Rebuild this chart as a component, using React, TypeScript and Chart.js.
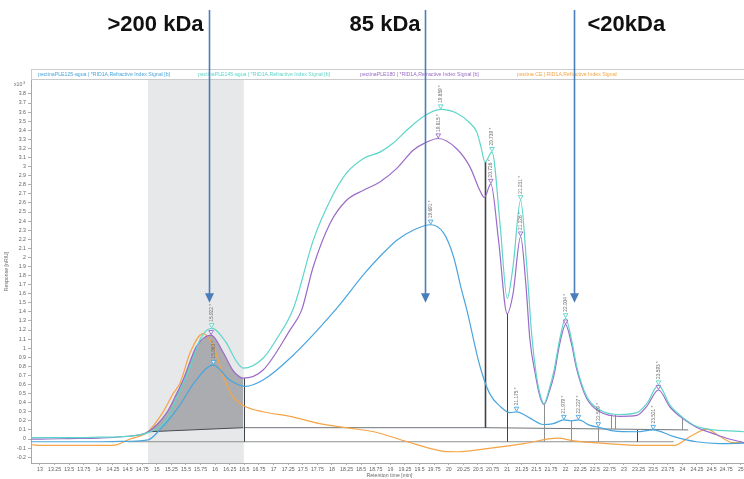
import React, { useEffect, useRef } from 'react';
import { Chart, registerables } from 'chart.js';

Chart.register(...registerables);

// ---------- data ----------
const seriesNames = [
  'pectinaPLE125-agua | *RID1A,Refractive Index Signal [b]',
  'pectinaPLE145-agua | *RID1A,Refractive Index Signal [b]',
  'pectinaPLE180 | *RID1A,Refractive Index Signal [b]',
  'pectina CE | RID1A,Refractive Index Signal',
];
const seriesColors = ['#4aa5de', '#5ed5ca', '#9a6bc8', '#f5a447'];

const ple125T = [12.85, 13.0, 14.0, 14.5, 14.85, 15.05, 15.38, 15.65, 15.97, 16.25, 16.51, 16.82, 17.28, 18.08, 18.54, 18.82, 19.11, 19.39, 19.69, 19.91, 20.08, 20.22, 20.31, 20.53, 20.7, 20.88, 21.05, 21.16, 21.39, 21.62, 21.79, 21.97, 22.1, 22.22, 22.42, 22.56, 22.82, 23.22, 23.5, 23.84, 24.24, 24.64, 25.06];
const ple125Y = [-0.03, -0.03, -0.03, -0.025, -0.01, 0.10, 0.36, 0.63, 0.815, 0.65, 0.58, 0.65, 0.89, 1.44, 1.81, 2.01, 2.19, 2.30, 2.36, 2.27, 2.01, 1.64, 1.42, 0.81, 0.50, 0.36, 0.29, 0.30, 0.23, 0.16, 0.17, 0.21, 0.20, 0.21, 0.15, 0.13, 0.09, 0.08, 0.10, 0.03, -0.03, -0.05, -0.045];

const ple145T = [12.85, 13.0, 13.5, 14.0, 14.5, 14.85, 15.17, 15.35, 15.48, 15.6, 15.75, 15.94, 16.18, 16.35, 16.48, 16.82, 17.05, 17.34, 17.68, 17.97, 18.25, 18.54, 18.82, 19.05, 19.28, 19.56, 19.86, 20.13, 20.36, 20.48, 20.55, 20.62, 20.74, 20.88, 21.0, 21.1, 21.23, 21.33, 21.42, 21.5, 21.56, 21.63, 21.72, 21.8, 21.9, 22.0, 22.1, 22.19, 22.36, 22.59, 22.93, 23.22, 23.39, 23.59, 23.79, 24.02, 24.24, 24.53, 24.8, 25.06];
const ple145Y = [0.015, 0.015, 0.015, 0.02, 0.03, 0.07, 0.21, 0.46, 0.65, 0.84, 1.11, 1.22, 1.07, 0.87, 0.78, 0.89, 1.1, 1.44, 2.19, 2.63, 2.93, 3.09, 3.16, 3.26, 3.40, 3.55, 3.63, 3.59, 3.48, 3.38, 3.22, 3.05, 3.16, 2.35, 1.55, 1.9, 2.63, 1.95, 1.15, 0.7, 0.5, 0.39, 0.55, 0.75, 1.1, 1.33, 1.1, 0.8, 0.47, 0.32, 0.27, 0.29, 0.39, 0.59, 0.37, 0.23, 0.14, 0.10, 0.09, 0.08];

const ple180T = [12.85, 13.0, 13.5, 14.0, 14.4, 14.85, 15.17, 15.34, 15.45, 15.68, 15.93, 16.14, 16.3, 16.48, 16.82, 17.28, 17.48, 17.68, 17.97, 18.25, 18.54, 18.82, 19.11, 19.39, 19.62, 19.82, 20.13, 20.36, 20.53, 20.61, 20.72, 20.85, 21.0, 21.1, 21.23, 21.32, 21.39, 21.48, 21.56, 21.63, 21.72, 21.8, 21.9, 22.0, 22.1, 22.19, 22.36, 22.59, 22.93, 23.22, 23.39, 23.59, 23.79, 24.02, 24.24, 24.53, 24.8, 25.06];
const ple180Y = [0.0, 0.0, 0.005, 0.01, 0.025, 0.08, 0.29, 0.50, 0.65, 1.02, 1.145, 0.95, 0.76, 0.67, 0.76, 1.20, 1.42, 1.90, 2.38, 2.63, 2.74, 2.83, 2.98, 3.18, 3.27, 3.31, 3.20, 3.00, 2.74, 2.66, 2.81, 2.2, 1.38, 1.6, 2.23, 1.7, 1.09, 0.72, 0.47, 0.38, 0.52, 0.7, 1.05, 1.26, 1.05, 0.77, 0.45, 0.30, 0.25, 0.26, 0.36, 0.54, 0.35, 0.22, 0.13, 0.06, 0.0, -0.04];

const ceT = [12.85, 13.0, 14.25, 14.54, 14.85, 15.1, 15.28, 15.4, 15.57, 15.79, 15.97, 16.14, 16.3, 16.48, 16.82, 17.28, 17.79, 18.3, 18.72, 19.29, 19.86, 20.15, 20.72, 21.29, 21.86, 22.14, 22.71, 23.29, 23.86, 24.14, 24.42, 24.64, 24.87, 25.06];
const ceY = [-0.06, -0.07, -0.07, 0.0, 0.08, 0.29, 0.50, 0.62, 0.95, 1.16, 1.02, 0.69, 0.47, 0.37, 0.30, 0.25, 0.17, 0.12, 0.08, -0.03, -0.13, -0.14, -0.10, -0.05, 0.01, -0.02, -0.05, -0.07, -0.07, 0.03, 0.11, 0.03, -0.04, -0.04];

// peaks (marker + label)
const ple125PeakT = [15.97, 19.69, 21.16, 21.97, 22.22, 22.56, 23.5];
const ple125PeakLabels = ['15.960 *', '19.691 *', '21.175 *', '21.979 *', '22.227 *', '22.579 *', '23.521 *'];
const ple145PeakT = [15.94, 19.86, 20.74, 21.23, 22.0, 23.59];
const ple145PeakLabels = ['15.922 *', '19.859 *', '20.739 *', '21.231 *', '22.004 *', '23.593 *'];
const ple180PeakT = [15.93, 19.82, 20.72, 21.23, 22.0, 23.59];
const ple180PeakLabels = ['', '19.815 *', '20.726 *', '21.226 *', '', ''];

// integration marks
const bandT = [14.85, 16.49];
const integBaseT = [14.85, 16.48];
const integBaseY = [0.08, 0.125];
const upperBaselineT = [16.49, 20.62, 22.8, 24.1];
const upperBaselineY = [0.125, 0.125, 0.11, 0.10];
const lowerBaselineT = [14.5, 23.85];
const lowerBaselineY = [-0.03, -0.03];
const dropT = [16.49, 20.62, 21.0, 21.63, 22.09, 22.56, 22.77, 22.85, 23.22, 23.99];
const dropTopY = [0.67, 3.05, 1.38, 0.38, 0.20, 0.13, 0.27, 0.27, 0.10, 0.23];
const dropBottomY = [-0.03, 0.125, -0.03, -0.03, -0.03, -0.03, 0.11, 0.11, -0.03, 0.10];
const dropDark = [true, true, true, false, false, false, false, false, true, false];

// annotations
const kdaTexts = ['>200 kDa', '85 kDa', '<20kDa'];
const arrowT = [15.894, 19.592, 22.144];
const arrowTipY = 1.5;

// axes
const xTickValues = [13, 13.25, 13.5, 13.75, 14, 14.25, 14.5, 14.75, 15, 15.25, 15.5, 15.75, 16, 16.25, 16.5, 16.75, 17, 17.25, 17.5, 17.75, 18, 18.25, 18.5, 18.75, 19, 19.25, 19.5, 19.75, 20, 20.25, 20.5, 20.75, 21, 21.25, 21.5, 21.75, 22, 22.25, 22.5, 22.75, 23, 23.25, 23.5, 23.75, 24, 24.25, 24.5, 24.75, 25];
const yTickValues = [-0.2, -0.1, 0, 0.1, 0.2, 0.3, 0.4, 0.5, 0.6, 0.7, 0.8, 0.9, 1, 1.1, 1.2, 1.3, 1.4, 1.5, 1.6, 1.7, 1.8, 1.9, 2, 2.1, 2.2, 2.3, 2.4, 2.5, 2.6, 2.7, 2.8, 2.9, 3, 3.1, 3.2, 3.3, 3.4, 3.5, 3.6, 3.7, 3.8];
const X_MIN = 12.846;
const X_MAX = 25.055;
const Y_MIN = -0.264;
const Y_MAX = 3.954;

const FONT = '"Liberation Sans", Arial, sans-serif';

const pts = (ts: number[], ys: number[]) => ts.map((t, i) => ({ x: t, y: ys[i] }));

function interp(ts: number[], ys: number[], t: number) {
  for (let i = 0; i < ts.length - 1; i++) {
    if (t >= ts[i] && t <= ts[i + 1]) {
      const f = (t - ts[i]) / (ts[i + 1] - ts[i]);
      return ys[i] + f * (ys[i + 1] - ys[i]);
    }
  }
  return ys[ys.length - 1];
}

const decorPlugin = {
  id: 'decor',
  beforeDatasetsDraw(chart: any) {
    const { ctx, chartArea, scales } = chart;
    const x = scales.x, y = scales.y;
    ctx.save();
    const b1 = x.getPixelForValue(bandT[0]);
    const b2 = x.getPixelForValue(bandT[1]);
    ctx.fillStyle = '#e7e8e9';
    ctx.fillRect(b1, chartArea.top, b2 - b1, chartArea.bottom - chartArea.top);
    const poly = (ts: number[], ys: number[], color: string) => {
      ctx.beginPath();
      ts.forEach((t, i) => {
        const px = x.getPixelForValue(t), py = y.getPixelForValue(ys[i]);
        if (i === 0) ctx.moveTo(px, py); else ctx.lineTo(px, py);
      });
      ctx.strokeStyle = color;
      ctx.lineWidth = 1;
      ctx.stroke();
    };
    poly(integBaseT, integBaseY, '#3f4449');
    poly(upperBaselineT, upperBaselineY, '#70757a');
    poly(lowerBaselineT, lowerBaselineY, '#8d8f91');
    dropT.forEach((t, i) => {
      const px = Math.round(x.getPixelForValue(t)) + 0.5;
      ctx.beginPath();
      ctx.moveTo(px, y.getPixelForValue(dropTopY[i]));
      ctx.lineTo(px, y.getPixelForValue(dropBottomY[i]));
      ctx.strokeStyle = dropDark[i] ? '#3f4449' : '#8d8f91';
      ctx.lineWidth = dropDark[i] && i === 1 ? 1.6 : 1;
      ctx.stroke();
    });
    ctx.restore();
  },
  afterDatasetsDraw(chart: any) {
    const { ctx, scales } = chart;
    const x = scales.x, y = scales.y;
    ctx.save();
    const groups = [
      { ts: ple125T, ys: ple125Y, pt: ple125PeakT, pl: ple125PeakLabels, c: seriesColors[0] },
      { ts: ple180T, ys: ple180Y, pt: ple180PeakT, pl: ple180PeakLabels, c: seriesColors[2] },
      { ts: ple145T, ys: ple145Y, pt: ple145PeakT, pl: ple145PeakLabels, c: seriesColors[1] },
    ];
    groups.forEach((g) => {
      g.pt.forEach((t, i) => {
        const px = x.getPixelForValue(t);
        const py = y.getPixelForValue(interp(g.ts, g.ys, t));
        ctx.beginPath();
        ctx.moveTo(px, py - 0.5);
        ctx.lineTo(px - 2.3, py - 4.6);
        ctx.lineTo(px + 2.3, py - 4.6);
        ctx.closePath();
        ctx.fillStyle = 'rgba(255,255,255,0.85)';
        ctx.fill();
        ctx.strokeStyle = g.c;
        ctx.lineWidth = 0.9;
        ctx.stroke();
        if (g.pl[i]) {
          ctx.save();
          ctx.translate(px, py - 6.5);
          ctx.rotate(-Math.PI / 2);
          ctx.font = `4.8px ${FONT}`;
          ctx.fillStyle = '#6e6e6e';
          ctx.textAlign = 'left';
          ctx.textBaseline = 'middle';
          ctx.fillText(g.pl[i], 0, 0);
          ctx.restore();
        }
      });
    });
    ctx.restore();
  },
  afterDraw(chart: any) {
    const { ctx, chartArea, scales } = chart;
    const x = scales.x, y = scales.y;
    ctx.save();
    ctx.strokeStyle = '#c9cbcd';
    ctx.lineWidth = 1;
    ctx.strokeRect(chartArea.left + 0.5, 69.5, chartArea.right - chartArea.left, 10);
    const legendX = [38, 198, 360, 517];
    ctx.font = `5.2px ${FONT}`;
    ctx.textBaseline = 'middle';
    ctx.textAlign = 'left';
    seriesNames.forEach((n, i) => {
      ctx.fillStyle = seriesColors[i];
      ctx.fillText(n, legendX[i], 74.5);
    });
    ctx.fillStyle = '#6a6a6a';
    ctx.font = `5.2px ${FONT}`;
    ctx.save();
    ctx.translate(7, (chartArea.top + chartArea.bottom) / 2);
    ctx.rotate(-Math.PI / 2);
    ctx.textAlign = 'center';
    ctx.fillText('Response [nRIU]', 0, 0);
    ctx.restore();
    ctx.textAlign = 'left';
    ctx.fillText('x10', 14, 85);
    ctx.font = `4px ${FONT}`;
    ctx.fillText('3', 23, 83);
    ctx.font = `5.2px ${FONT}`;
    ctx.textAlign = 'center';
    ctx.fillText('Retention time [min]', (chartArea.left + chartArea.right) / 2 + 2, 476);
    const blue = '#4a7ebb';
    const topPx = 10;
    const tipPx = y.getPixelForValue(arrowTipY);
    arrowT.forEach((t, i) => {
      const px = Math.round(x.getPixelForValue(t)) + 0.5;
      ctx.strokeStyle = blue;
      ctx.lineWidth = 1.6;
      ctx.beginPath();
      ctx.moveTo(px, topPx);
      ctx.lineTo(px, tipPx - 8);
      ctx.stroke();
      ctx.fillStyle = blue;
      ctx.beginPath();
      ctx.moveTo(px, tipPx);
      ctx.lineTo(px - 4.5, tipPx - 9.5);
      ctx.lineTo(px + 4.5, tipPx - 9.5);
      ctx.closePath();
      ctx.fill();
      ctx.fillStyle = '#111';
      ctx.font = `bold 22px ${FONT}`;
      ctx.textBaseline = 'alphabetic';
      if (i < 2) {
        ctx.textAlign = 'right';
        ctx.fillText(kdaTexts[i], px - (i === 0 ? 6 : 5), 31);
      } else {
        ctx.textAlign = 'left';
        ctx.fillText(kdaTexts[i], px + 13, 31);
      }
    });
    ctx.restore();
  },
};

export default function App() {
  const ref = useRef<HTMLCanvasElement>(null);
  useEffect(() => {
    if (!ref.current) return;
    const line = (data: any[], color: string) => ({
      data,
      borderColor: color,
      backgroundColor: color,
      borderWidth: 1.2,
      pointRadius: 0,
      fill: false,
      cubicInterpolationMode: 'monotone' as const,
      order: 1,
    });
    const areaPts = pts(ple180T, ple180Y).filter((p) => p.x >= integBaseT[0] && p.x <= integBaseT[1]);
    const chart = new Chart(ref.current, {
      type: 'line',
      data: {
        datasets: [
          { ...line(pts(ple125T, ple125Y), seriesColors[0]), label: seriesNames[0] },
          { ...line(pts(ple145T, ple145Y), seriesColors[1]), label: seriesNames[1] },
          { ...line(pts(ple180T, ple180Y), seriesColors[2]), label: seriesNames[2] },
          { ...line(pts(ceT, ceY), seriesColors[3]), label: seriesNames[3] },
          {
            label: 'integrated',
            data: areaPts,
            borderWidth: 0,
            borderColor: 'rgba(0,0,0,0)',
            pointRadius: 0,
            cubicInterpolationMode: 'monotone',
            backgroundColor: 'rgba(95,100,106,0.45)',
            fill: '+1',
            order: 10,
          },
          {
            label: 'integration base',
            data: pts(integBaseT, integBaseY),
            borderWidth: 0,
            borderColor: 'rgba(0,0,0,0)',
            pointRadius: 0,
            fill: false,
            order: 11,
          },
        ],
      },
      options: {
        responsive: false,
        animation: false,
        devicePixelRatio: 1,
        layout: { padding: { top: 80, left: 0, right: 0, bottom: 0 } },
        plugins: {
          legend: { display: false },
          tooltip: { enabled: false },
          title: { display: false },
        },
        scales: {
          x: {
            type: 'linear',
            min: X_MIN,
            max: X_MAX,
            bounds: 'data',
            afterBuildTicks: (s: any) => {
              s.ticks = xTickValues.map((v) => ({ value: v }));
            },
            afterFit: (s: any) => {
              s.height = 16;
              s.paddingLeft = 0;
              s.paddingRight = 0;
            },
            ticks: {
              autoSkip: false,
              maxRotation: 0,
              minRotation: 0,
              padding: 1,
              color: '#5e5e5e',
              font: { size: 5.2, family: FONT },
              callback: (v: any) => String(v),
            },
            grid: { drawOnChartArea: false, drawTicks: true, tickLength: 2, tickColor: '#b0b0b0' },
            border: { color: '#a8a8a8', width: 1 },
          },
          y: {
            type: 'linear',
            min: Y_MIN,
            max: Y_MAX,
            bounds: 'data',
            afterBuildTicks: (s: any) => {
              s.ticks = yTickValues.map((v) => ({ value: v }));
            },
            afterFit: (s: any) => {
              s.width = 31;
            },
            ticks: {
              autoSkip: false,
              padding: 2,
              color: '#5e5e5e',
              font: { size: 5.2, family: FONT },
              callback: (v: any) => String(Math.round(Number(v) * 10) / 10),
            },
            grid: { drawOnChartArea: false, drawTicks: true, tickLength: 3, tickColor: '#b0b0b0' },
            border: { color: '#a8a8a8', width: 1 },
          },
        },
      },
      plugins: [decorPlugin],
    } as any);
    return () => chart.destroy();
  }, []);
  return (
    <div style={{ position: 'absolute', left: 0, top: 0, width: 744, height: 479, background: '#fff' }}>
      <canvas ref={ref} width={744} height={479} style={{ display: 'block', width: 744, height: 479 }} />
    </div>
  );
}
